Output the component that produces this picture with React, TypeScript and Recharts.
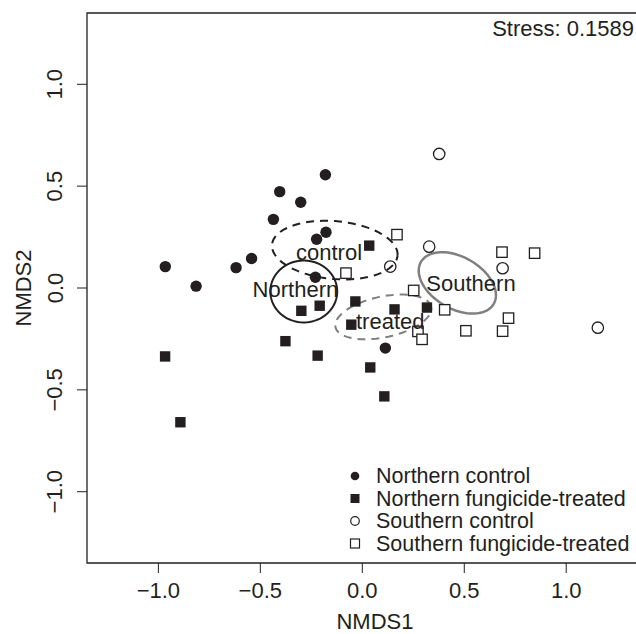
import React from 'react';
import { ScatterChart, Scatter, XAxis, YAxis, ReferenceArea, Customized } from 'recharts';

const FONT = '"Liberation Sans", Arial, Helvetica, sans-serif';
const INK = '#231f20';
const GRAY = '#808080';
const FS = 22;

// ---- data (NMDS1, NMDS2) ----
const northernControl: [number, number][] = [
  [-0.181, 0.556], [-0.405, 0.473], [-0.302, 0.421], [-0.436, 0.337],
  [-0.178, 0.274], [-0.224, 0.239], [-0.543, 0.145], [-0.619, 0.100],
  [-0.966, 0.105], [-0.815, 0.009], [-0.230, 0.053], [0.113, -0.295],
];
const northernTreated: [number, number][] = [
  [0.034, 0.208], [-0.299, -0.112], [-0.209, -0.087], [-0.034, -0.066],
  [-0.054, -0.180], [0.158, -0.105], [0.317, -0.096], [-0.377, -0.261],
  [-0.219, -0.332], [0.039, -0.390], [-0.967, -0.336], [-0.892, -0.659],
  [0.108, -0.532],
];
const southernControl: [number, number][] = [
  [0.377, 0.658], [0.328, 0.203], [0.137, 0.105], [0.688, 0.097], [1.155, -0.195],
];
const southernTreated: [number, number][] = [
  [0.170, 0.262], [-0.080, 0.073], [0.685, 0.176], [0.845, 0.171],
  [0.252, -0.012], [0.404, -0.107], [0.717, -0.148], [0.508, -0.210],
  [0.688, -0.212], [0.273, -0.213], [0.293, -0.252],
];

// ellipses (centre, semi-axes, rotation in degrees)
const ellipseNames = ['Northern', 'control', 'treated', 'Southern'];
const ellipseCx = [-0.287, -0.135, 0.103, 0.466];
const ellipseCy = [-0.017, 0.186, -0.142, 0.025];
const ellipseRx = [0.164, 0.309, 0.240, 0.206];
const ellipseRy = [0.152, 0.142, 0.100, 0.127];
const ellipseAngle = [0, -5, 12, -30];
const ellipseColor = [INK, INK, GRAY, GRAY];
const ellipseDash = ['', '8 6', '8 6', ''];
const ellipseWidth = [2, 2, 2, 2.5];

const labelX = [-0.328, -0.163, 0.137, 0.533];
const labelY = [-0.009, 0.175, -0.164, 0.021];

const axisTicks = [-1, -0.5, 0, 0.5, 1];
const legendLabels = ['Northern control', 'Northern fungicide-treated', 'Southern control', 'Southern fungicide-treated'];
const stressText = 'Stress: 0.1589';

const XMIN = -1.35, XMAX = 1.45, YMIN = -1.35, YMAX = 1.35;

const toObj = (arr: [number, number][]) => arr.map(([x, y]) => ({ x, y }));

const ellipsePoints = (i: number) => {
  const pts: { x: number; y: number }[] = [];
  const a = (ellipseAngle[i] * Math.PI) / 180;
  for (let k = 0; k <= 90; k++) {
    const t = (k / 90) * 2 * Math.PI;
    const ex = ellipseRx[i] * Math.cos(t);
    const ey = ellipseRy[i] * Math.sin(t);
    pts.push({
      x: ellipseCx[i] + ex * Math.cos(a) - ey * Math.sin(a),
      y: ellipseCy[i] + ex * Math.sin(a) + ey * Math.cos(a),
    });
  }
  return pts;
};

const labelData = ellipseNames.map((n, i) => ({ x: labelX[i], y: labelY[i], label: n }));

const fmt = (v: number) => (v < 0 ? '\u2212' : '') + Math.abs(v).toFixed(1);

const XTick = (props: any) => (
  <text x={props.x} y={590} textAnchor="middle" dominantBaseline="central" fontSize={FS} fontFamily={FONT} fill={INK}>
    {fmt(props.payload.value)}
  </text>
);
const YTick = (props: any) => (
  <text x={55} y={props.y} transform={`rotate(-90 55 ${props.y})`} textAnchor="middle" dominantBaseline="central" fontSize={FS} fontFamily={FONT} fill={INK}>
    {fmt(props.payload.value)}
  </text>
);

const FilledCircle = (p: any) => <circle cx={p.cx} cy={p.cy} r={5.7} fill={INK} />;
const FilledSquare = (p: any) => <rect x={p.cx - 5.2} y={p.cy - 5.2} width={10.4} height={10.4} fill={INK} />;
const OpenCircle = (p: any) => <circle cx={p.cx} cy={p.cy} r={5.7} fill="none" stroke={INK} strokeWidth={1.3} />;
const OpenSquare = (p: any) => <rect x={p.cx - 5.2} y={p.cy - 5.2} width={10.4} height={10.4} fill="white" stroke={INK} strokeWidth={1.3} />;
const NoShape = () => <g />;
const LabelShape = (p: any) => (
  <text x={p.cx} y={p.cy} textAnchor="middle" dominantBaseline="central" fontSize={FS} fontFamily={FONT} fill={INK}>
    {p.payload.label}
  </text>
);

const Overlay = () => {
  const rows = [476, 498.5, 521, 543.5];
  const mx = 355;
  const tx = 376;
  return (
    <g fontFamily={FONT} fill={INK}>
      <text x={634} y={28} textAnchor="end" dominantBaseline="central" fontSize={FS}>{stressText}</text>
      <text x={375} y={629} textAnchor="middle" fontSize={FS}>NMDS1</text>
      <text x={23} y={288} transform="rotate(-90 23 288)" textAnchor="middle" dominantBaseline="central" fontSize={FS}>NMDS2</text>
      <circle cx={mx} cy={rows[0]} r={4.3} fill={INK} />
      <rect x={mx - 4.5} y={rows[1] - 4.5} width={9} height={9} fill={INK} />
      <circle cx={mx} cy={rows[2]} r={4.3} fill="none" stroke={INK} strokeWidth={1.2} />
      <rect x={mx - 4.5} y={rows[3] - 4.5} width={9} height={9} fill="none" stroke={INK} strokeWidth={1.2} />
      {legendLabels.map((l, i) => (
        <text key={l} x={tx} y={rows[i]} dominantBaseline="central" fontSize={21.5}>{l}</text>
      ))}
    </g>
  );
};

export default function App() {
  return (
    <div style={{ position: 'absolute', left: 0, top: 0, width: 636, height: 634, overflow: 'hidden', background: 'white' }}>
      <ScatterChart width={670} height={634} margin={{ top: 13, right: 12, left: 0, bottom: 0 }}>
        <XAxis
          type="number"
          dataKey="x"
          domain={[XMIN, XMAX]}
          allowDataOverflow
          ticks={axisTicks}
          tick={<XTick />}
          tickSize={10}
          tickLine={{ stroke: INK, strokeWidth: 1 }}
          axisLine={false}
          height={71}
          interval={0}
        />
        <YAxis
          type="number"
          dataKey="y"
          domain={[YMIN, YMAX]}
          allowDataOverflow
          ticks={axisTicks}
          tick={<YTick />}
          tickSize={10}
          tickLine={{ stroke: INK, strokeWidth: 1 }}
          axisLine={false}
          width={87}
          interval={0}
        />
        <ReferenceArea x1={XMIN} x2={XMAX} y1={YMIN} y2={YMAX} fill="none" fillOpacity={0} stroke={INK} strokeWidth={1.3} />
        {ellipseNames.map((n, i) => (
          <Scatter
            key={n}
            data={ellipsePoints(i)}
            line={{ stroke: ellipseColor[i], strokeWidth: ellipseWidth[i], strokeDasharray: ellipseDash[i] || undefined, fill: 'none' }}
            lineType="joint"
            shape={<NoShape />}
            isAnimationActive={false}
            legendType="none"
          />
        ))}
        <Scatter data={toObj(northernControl)} shape={<FilledCircle />} isAnimationActive={false} />
        <Scatter data={toObj(northernTreated)} shape={<FilledSquare />} isAnimationActive={false} />
        <Scatter data={toObj(southernControl)} shape={<OpenCircle />} isAnimationActive={false} />
        <Scatter data={toObj(southernTreated)} shape={<OpenSquare />} isAnimationActive={false} />
        <Scatter data={labelData} shape={<LabelShape />} isAnimationActive={false} />
        <Customized component={<Overlay />} />
      </ScatterChart>
    </div>
  );
}
